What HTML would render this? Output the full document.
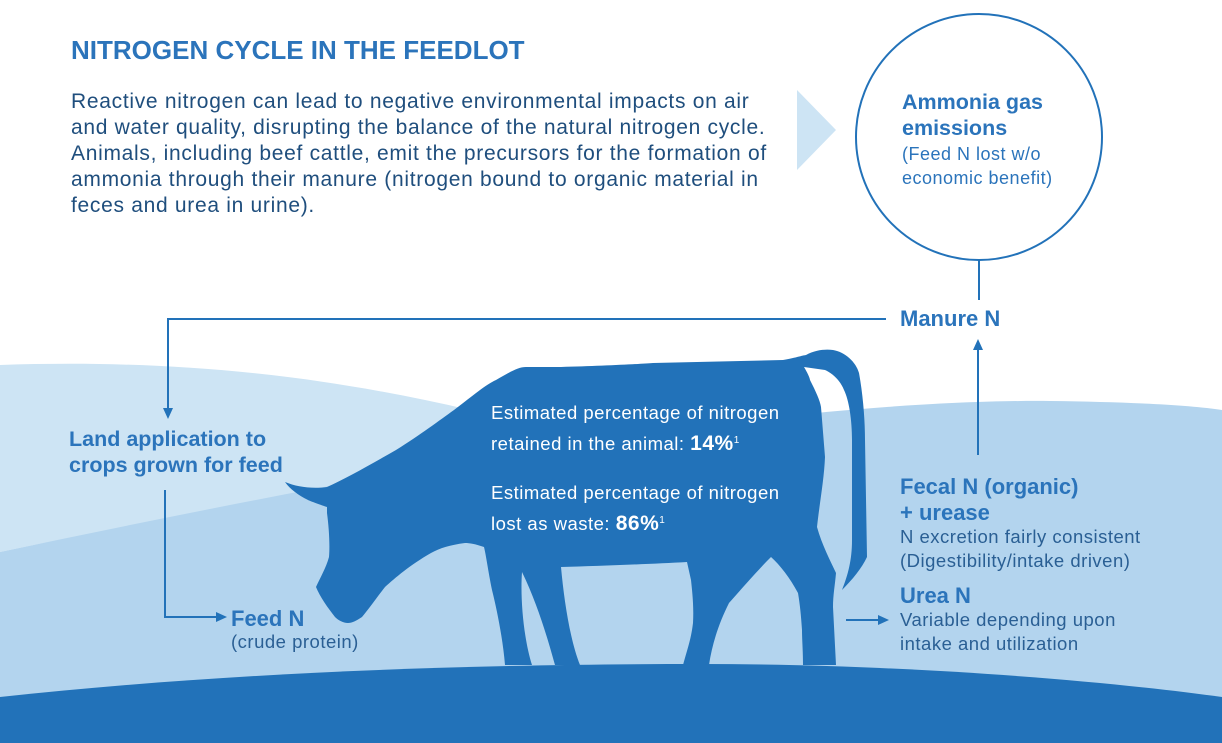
<!DOCTYPE html>
<html><head><meta charset="utf-8"><style>
html,body{margin:0;padding:0;background:#fff}
body{width:1222px;height:743px;position:relative;overflow:hidden;font-family:"Liberation Sans",sans-serif}
.t{position:absolute;color:#2b74bb;white-space:nowrap}
.b{font-weight:bold}
.s{letter-spacing:0.5px;font-size:18.5px}
</style></head><body>
<svg width="1222" height="743" style="position:absolute;left:0;top:0">
<path d="M0,365 C150,360 300,370 470,410 L470,490 C300,500 150,520 0,552 Z" fill="#cde4f4"/>
<path d="M0,552 C200,510 400,470 600,440 C800,410 950,400 1050,401 C1130,402 1190,405 1222,410 L1222,700 L0,700 Z" fill="#b3d4ee"/>
<path d="M0,697 C250,670 500,664 700,664 C900,664 1100,680 1222,697 L1222,743 L0,743 Z" fill="#2272b9"/>
<path d="M797,90 L836,130 L797,170 Z" fill="#cde4f4"/>
<circle cx="979" cy="137" r="123" fill="none" stroke="#2272b9" stroke-width="2"/>
<g stroke="#2272b9" stroke-width="2" fill="none">
<line x1="979" y1="260" x2="979" y2="300"/>
<polyline points="886,319 168,319 168,410"/>
<line x1="978" y1="455" x2="978" y2="348"/>
<polyline points="165,490 165,617 218,617"/>
<line x1="846" y1="620" x2="880" y2="620"/>
</g>
<g fill="#2272b9">
<path d="M163,408 L173,408 L168,419 Z"/>
<path d="M973,350 L983,350 L978,339 Z"/>
<path d="M216,612 L216,622 L227,617 Z"/>
<path d="M878,615 L878,625 L889,620 Z"/>
<path d="M285,482 C297,487 312,489 327,487 C345,479 368,466 396,450 C420,435 440,420 454,410 C470,398 485,385 496,380 C510,372 518,367 526,367 L561,367 C600,366 640,364 653,363 L783,360 C795,358 800,356 806,355 C815,350 825,349 833,350 C845,352 856,362 859,373 C863,395 865,420 865,440 L867,557 C862,568 852,580 842,590 C848,575 852,560 852,540 L852,440 C852,420 849,400 844,390 C840,380 832,373 825,370 L804,367 C807,372 810,378 810,380 C815,390 820,400 821,407 L825,457 C824,480 820,500 817,527 C822,545 830,560 836,573 C835,585 833,595 833,607 L836,665 L803,665 C803,650 802,640 802,630 C801,615 800,605 798,593 C790,578 780,565 771,557 C758,570 745,585 729,603 C718,625 712,645 709,665 L683,665 C687,650 691,640 693,623 C694,605 692,590 691,580 L687,562 C650,564 600,566 561,567 C564,600 570,640 580,665 L555,665 C548,640 538,605 522,572 C520,600 524,640 532,665 L505,665 C503,640 497,610 492,590 C488,570 486,555 484,547 C475,544 470,543 465,543 C450,545 440,548 431,553 C410,565 395,578 385,587 C375,600 368,610 362,617 C356,621 352,623 348,623 C343,623 338,620 335,617 C328,608 320,597 316,587 C320,578 326,568 329,557 C330,545 329,528 327,513 L327,507 C318,504 310,501 308,500 C298,495 290,489 285,482 Z"/>
</g>
</svg>
<div class="t b" style="left:71px;top:35px;font-size:26px">NITROGEN CYCLE IN THE FEEDLOT</div>
<div class="t" style="left:71px;top:89px;font-size:21px;letter-spacing:0.7px;line-height:26px;color:#1f4e7d">Reactive nitrogen can lead to negative environmental impacts on air<br>and water quality, disrupting the balance of the natural nitrogen cycle.<br>Animals, including beef cattle, emit the precursors for the formation of<br>ammonia through their manure (nitrogen bound to organic material in<br>feces and urea in urine).</div>
<div class="t b" style="left:902px;top:89px;font-size:21.5px;line-height:26px">Ammonia gas<br>emissions</div>
<div class="t s" style="left:902px;top:142px;line-height:24px;font-size:18px">(Feed N lost w/o<br>economic benefit)</div>
<div class="t b" style="left:900px;top:306px;font-size:22px">Manure N</div>
<div class="t b" style="left:69px;top:426px;font-size:21.5px;line-height:26px">Land application to<br>crops grown for feed</div>
<div class="t" style="left:491px;top:399px;font-size:18.5px;letter-spacing:0.5px;line-height:28px;color:#fff">Estimated percentage of nitrogen<br>retained in the animal: <b style="font-size:21px">14%</b><sup style="font-size:10px">1</sup></div>
<div class="t" style="left:491px;top:479px;font-size:18.5px;letter-spacing:0.5px;line-height:28px;color:#fff">Estimated percentage of nitrogen<br>lost as waste: <b style="font-size:21px">86%</b><sup style="font-size:10px">1</sup></div>
<div class="t b" style="left:900px;top:474px;font-size:22px;line-height:26px">Fecal N (organic)<br>+ urease</div>
<div class="t s" style="left:900px;top:525px;line-height:24px;color:#2a5f94">N excretion fairly consistent<br>(Digestibility/intake driven)</div>
<div class="t b" style="left:900px;top:583px;font-size:22px">Urea N</div>
<div class="t s" style="left:900px;top:608px;line-height:24px;color:#2a5f94">Variable depending upon<br>intake and utilization</div>
<div class="t b" style="left:231px;top:606px;font-size:22px">Feed N</div>
<div class="t s" style="left:231px;top:631px;color:#2a5f94">(crude protein)</div>
</body></html>
